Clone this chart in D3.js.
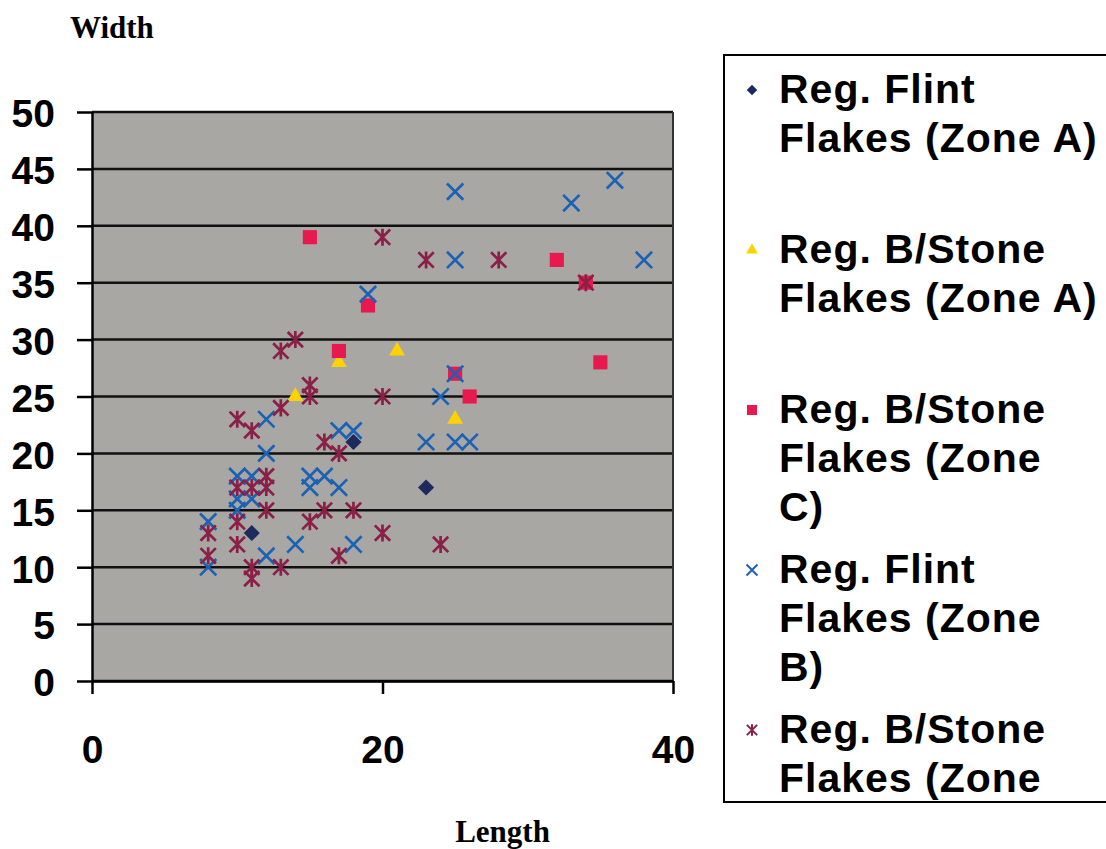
<!DOCTYPE html>
<html>
<head>
<meta charset="utf-8">
<script src="https://cdn.jsdelivr.net/npm/d3@7"></script>
<style>
  body { margin: 0; background: #fff; }
</style>
</head>
<body>
<div id="chart"></div>
<script>
// data (length, width)
var flintA_len = [11, 18, 23];
var flintA_wid = [13, 21, 17];

var stoneA_len = [14, 17, 21, 25];
var stoneA_wid = [25, 28, 29, 23];

var stoneC_len = [15, 17, 19, 25, 26, 32, 34, 35];
var stoneC_wid = [39, 29, 33, 27, 25, 37, 35, 28];

var flintB_len = [8, 8, 10, 11, 10, 11, 10, 12, 12, 12, 14, 15, 16, 15, 17, 17, 18, 18, 19, 25, 33, 36, 25, 38, 25, 24, 23, 25, 26];
var flintB_wid = [14, 10, 18, 18, 16, 16, 15, 20, 23, 11, 12, 18, 18, 17, 17, 22, 22, 12, 34, 43, 42, 44, 37, 37, 27, 25, 21, 21, 21];

var stoneB_len = [20, 23, 28, 34, 13, 14, 15, 15, 20, 13, 10, 11, 16, 17, 12, 10, 11, 12, 12, 10, 8, 10, 8, 11, 11, 13, 15, 16, 18, 17, 20, 24];
var stoneB_wid = [39, 37, 37, 35, 29, 30, 26, 25, 25, 24, 23, 22, 21, 20, 18, 17, 17, 17, 15, 14, 13, 12, 11, 10, 9, 10, 14, 15, 15, 11, 13, 12];

var yTicks = [0, 5, 10, 15, 20, 25, 30, 35, 40, 45, 50];
var xTicks = [0, 20, 40];

var legendLines = [
    ["Reg. Flint", "Flakes (Zone A)"],
    ["Reg. B/Stone", "Flakes (Zone A)"],
    ["Reg. B/Stone", "Flakes (Zone", "C)"],
    ["Reg. Flint", "Flakes (Zone", "B)"],
    ["Reg. B/Stone", "Flakes (Zone", "A)"]
];

// excel style star: an x with a vertical bar
var symbolStar = {
    draw: function(ctx, size) {
        var r = Math.sqrt(size) / 2, d = r * 0.9;
        ctx.moveTo(0, -r); ctx.lineTo(0, r);
        ctx.moveTo(-d, -d); ctx.lineTo(d, d);
        ctx.moveTo(-d, d); ctx.lineTo(d, -d);
    }
};

function zip(a, b) { return a.map(function(v, i) { return {x: v, y: b[i]}; }); }

var series = [
    {data: zip(flintA_len, flintA_wid), type: d3.symbolSquare, size: 130, rot: 45, color: "#1d2b5c", stroke: false, lsize: 55},
    {data: zip(stoneA_len, stoneA_wid), type: d3.symbolTriangle, size: 110, rot: 0, color: "#fcd200", stroke: false, lsize: 60},
    {data: zip(stoneC_len, stoneC_wid), type: d3.symbolSquare, size: 200, rot: 0, color: "#e8194f", stroke: false, lsize: 100},
    {data: zip(flintB_len, flintB_wid), type: d3.symbolTimes, size: 175, rot: 0, color: "#1b62b5", stroke: true, lsize: 80},
    {data: zip(stoneB_len, stoneB_wid), type: symbolStar, size: 290, rot: 0, color: "#8a1f47", stroke: true, lsize: 130}
];

var W = 1106, H = 849;
var margin = {top: 112, left: 92, right: 433, bottom: 168};
var width = W - margin.left - margin.right,
    height = H - margin.top - margin.bottom;

var svg = d3.select("#chart")
    .append("svg")
        .attr("width", W)
        .attr("height", H)
        .style("font-family", "'Liberation Sans', Arial, sans-serif");

var g = svg.append("g")
    .attr("transform", "translate(" + margin.left + "," + margin.top + ")");

var x = d3.scaleLinear().domain([0, 40]).range([0, width]);
var y = d3.scaleLinear().domain([0, 50]).range([height, 0]);

// plot background
g.append("rect")
    .attr("width", width)
    .attr("height", height)
    .attr("fill", "#a9a7a4");

// gridlines
g.selectAll(".grid")
    .data(yTicks)
    .enter().append("line")
        .attr("x1", 0)
        .attr("x2", width)
        .attr("y1", function(d) { return y(d); })
        .attr("y2", function(d) { return y(d); })
        .attr("stroke", "#111")
        .attr("stroke-width", 2.5);

// right border
g.append("line")
    .attr("x1", width).attr("x2", width)
    .attr("y1", 0).attr("y2", height)
    .attr("stroke", "#333")
    .attr("stroke-width", 2);

// axes
var yAxis = g.append("g")
    .call(d3.axisLeft(y).tickValues(yTicks).tickSize(15).tickSizeOuter(0).tickPadding(22));
var xAxis = g.append("g")
    .attr("transform", "translate(0," + height + ")")
    .call(d3.axisBottom(x).tickValues(xTicks).tickSize(13).tickSizeOuter(0).tickPadding(41));

[yAxis, xAxis].forEach(function(ax) {
    ax.select(".domain").attr("stroke", "#000").attr("stroke-width", 2.5);
    ax.selectAll(".tick line").attr("stroke", "#000").attr("stroke-width", 2.5);
    ax.selectAll("text")
        .attr("fill", "#000")
        .style("font-size", "39px")
        .style("font-weight", "bold")
        .style("font-family", "'Liberation Sans', Arial, sans-serif");
});
yAxis.selectAll("text").attr("dy", "0.38em");

// points
series.forEach(function(s) {
    var sym = d3.symbol().type(s.type).size(s.size);
    g.append("g").selectAll("path")
        .data(s.data)
        .enter().append("path")
            .attr("d", sym)
            .attr("transform", function(d) {
                return "translate(" + x(d.x) + "," + y(d.y) + ") rotate(" + s.rot + ")";
            })
            .attr("fill", s.stroke ? "none" : s.color)
            .attr("stroke", s.stroke ? s.color : "none")
            .attr("stroke-width", s.stroke ? 2.7 : 0);
});

// axis titles
svg.append("text")
    .attr("x", 70).attr("y", 38)
    .style("font-family", "'Liberation Serif', 'Times New Roman', serif")
    .style("font-weight", "bold")
    .style("font-size", "31px")
    .text("Width");

svg.append("text")
    .attr("x", margin.left + x(20) + 120).attr("y", 842)
    .attr("text-anchor", "middle")
    .style("font-family", "'Liberation Serif', 'Times New Roman', serif")
    .style("font-weight", "bold")
    .style("font-size", "31px")
    .text("Length");

// legend (box runs off the right edge and clips its last entry)
var lg = {x: 724, y: 55, w: 400, h: 747};
svg.append("clipPath").attr("id", "legclip")
    .append("rect").attr("x", lg.x).attr("y", lg.y).attr("width", lg.w).attr("height", lg.h);

var leg = svg.append("g").attr("clip-path", "url(#legclip)");
series.forEach(function(s, i) {
    var base = 103 + i * 160;
    var sym = d3.symbol().type(s.type).size(s.lsize);
    leg.append("path")
        .attr("d", sym)
        .attr("transform", "translate(752," + (base - 13) + ") rotate(" + s.rot + ")")
        .attr("fill", s.stroke ? "none" : s.color)
        .attr("stroke", s.stroke ? s.color : "none")
        .attr("stroke-width", s.stroke ? 2 : 0);
    leg.selectAll(null)
        .data(legendLines[i])
        .enter().append("text")
            .attr("x", 779)
            .attr("y", function(d, j) { return base + j * 49; })
            .style("font-size", "41px")
            .style("font-weight", "bold")
            .style("letter-spacing", "1px")
            .text(function(d) { return d; });
});

svg.append("rect")
    .attr("x", lg.x).attr("y", lg.y)
    .attr("width", lg.w).attr("height", lg.h)
    .attr("fill", "none")
    .attr("stroke", "#000")
    .attr("stroke-width", 2);
</script>
</body>
</html>
